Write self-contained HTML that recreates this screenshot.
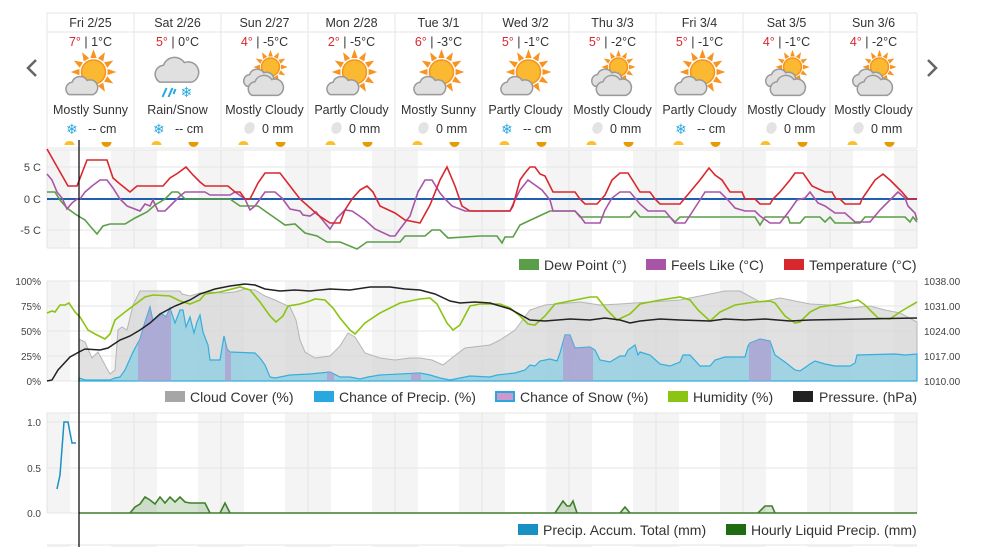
<!DOCTYPE html>
<html><head><meta charset="utf-8"><style>
html,body{margin:0;padding:0;background:#fff;}
body{width:981px;height:547px;overflow:hidden;position:relative;font-family:"Liberation Sans",Arial,sans-serif;}
svg{position:absolute;left:0;top:0;}
</style></head><body>
<svg id="s" width="981" height="547" viewBox="0 0 981 547" font-family="Liberation Sans, Arial, sans-serif">
<defs>
<clipPath id="snowclip">
<rect x="138" y="270" width="33" height="120"/><rect x="225" y="270" width="6" height="120"/>
<rect x="327" y="270" width="7" height="120"/><rect x="411" y="270" width="10" height="120"/>
<rect x="563" y="270" width="30" height="120"/><rect x="749" y="270" width="22" height="120"/>
</clipPath>
</defs>
<g id="bands"></g>
<g id="grid" stroke="#e6e6e6" stroke-width="1"></g>
<g font-size="12.5" fill="#333" text-anchor="middle">
<text x="90.5" y="27">Fri 2/25</text><text x="177.5" y="27">Sat 2/26</text><text x="264.5" y="27">Sun 2/27</text><text x="351.5" y="27">Mon 2/28</text><text x="438.5" y="27">Tue 3/1</text><text x="525.5" y="27">Wed 3/2</text><text x="612.5" y="27">Thu 3/3</text><text x="699.5" y="27">Fri 3/4</text><text x="786.5" y="27">Sat 3/5</text><text x="873.5" y="27">Sun 3/6</text>
</g>
<g font-size="12.5" fill="#333" text-anchor="middle">
<text x="90.5" y="46"><tspan fill="#d9272e">7°</tspan> | 1°C</text>
<text x="177.5" y="46"><tspan fill="#d9272e">5°</tspan> | 0°C</text>
<text x="264.5" y="46"><tspan fill="#d9272e">4°</tspan> | -5°C</text>
<text x="351.5" y="46"><tspan fill="#d9272e">2°</tspan> | -5°C</text>
<text x="438.5" y="46"><tspan fill="#d9272e">6°</tspan> | -3°C</text>
<text x="525.5" y="46"><tspan fill="#d9272e">5°</tspan> | -1°C</text>
<text x="612.5" y="46"><tspan fill="#d9272e">5°</tspan> | -2°C</text>
<text x="699.5" y="46"><tspan fill="#d9272e">5°</tspan> | -1°C</text>
<text x="786.5" y="46"><tspan fill="#d9272e">4°</tspan> | -1°C</text>
<text x="873.5" y="46"><tspan fill="#d9272e">4°</tspan> | -2°C</text>
</g>
<g font-size="12.5" fill="#333" text-anchor="middle">
<text x="90.5" y="114">Mostly Sunny</text><text x="177.5" y="114">Rain/Snow</text><text x="264.5" y="114">Mostly Cloudy</text><text x="351.5" y="114">Partly Cloudy</text><text x="438.5" y="114">Mostly Sunny</text><text x="525.5" y="114">Partly Cloudy</text><text x="612.5" y="114">Mostly Cloudy</text><text x="699.5" y="114">Partly Cloudy</text><text x="786.5" y="114">Mostly Cloudy</text><text x="873.5" y="114">Mostly Cloudy</text>
</g>
<g font-size="12.5" fill="#333">
<text x="88" y="133">-- cm</text><text x="175" y="133">-- cm</text><text x="262" y="133">0 mm</text><text x="349" y="133">0 mm</text><text x="436" y="133">0 mm</text><text x="523" y="133">-- cm</text><text x="610" y="133">0 mm</text><text x="697" y="133">-- cm</text><text x="784" y="133">0 mm</text><text x="871" y="133">0 mm</text>
</g>
<g font-size="14" fill="#29a8e0">
<text x="66" y="134">❄</text><text x="153" y="134">❄</text><text x="501" y="134">❄</text><text x="675" y="134">❄</text>
</g>
<g id="icons"></g>

<g font-size="11" fill="#444" text-anchor="end">
<text x="41" y="171">5 C</text><text x="41" y="203">0 C</text><text x="41" y="234">-5 C</text>
</g>
<line x1="47" y1="199" x2="917" y2="199" stroke="#1f5fb0" stroke-width="2"/>
<polyline fill="none" stroke="#5a9e47" stroke-width="1.6" points="47,192 55,192 60,200 67,208 75,214 85,220 90,226 97,234 103,226 110,224 125,224 135,218 147,212 155,205 165,199 172,192 178,192 185,199 230,199 240,206 258,206 265,211 275,218 285,225 295,224 305,233 317,236 327,242 340,242 357,249 367,242 400,242 405,236 425,236 432,230 440,230 448,238 480,236 497,236 502,243 505,237 513,237 520,225 535,218 550,211 575,211 580,217 630,217 635,211 640,217 670,217 675,222 680,217 755,217 760,225 765,217 788,217 790,223 800,223 805,217 820,217 825,222 830,217 835,223 860,223 865,217 905,217 910,222 913,217 917,222"/>
<polyline fill="none" stroke="#a855a8" stroke-width="1.6" points="47,174 52,180 57,192 62,198 67,209 72,203 77,199 80,199 85,192 92,186 100,180 107,180 113,188 120,199 127,206 140,211 145,204 150,206 153,200 158,211 165,211 170,206 180,196 185,192 205,192 210,195 230,195 235,192 245,199 250,210 255,206 260,199 265,192 275,192 282,198 290,209 300,211 303,215 310,216 316,212 325,223 330,229 337,218 345,210 352,211 358,215 365,220 375,229 390,236 395,236 400,229 410,216 418,192 425,180 432,180 440,193 445,199 452,206 465,211 510,211 515,200 520,190 528,180 535,185 542,190 550,200 553,211 575,211 580,216 585,223 600,223 605,210 612,198 620,192 630,192 635,198 640,204 648,211 665,211 675,223 685,223 700,200 705,192 720,192 728,200 735,208 745,211 755,211 760,216 770,223 780,223 790,210 797,200 805,198 810,192 818,203 825,206 835,213 845,213 855,222 870,222 880,210 890,200 898,192 905,198 908,206 915,213 917,220"/>
<polyline fill="none" stroke="#d9272e" stroke-width="1.6" points="47,149 68,186 77,186 87,160 107,160 113,178 120,184 130,192 137,186 163,186 170,178 178,173 186,167 193,175 200,182 205,186 228,186 235,192 240,192 245,199 250,199 258,183 265,173 280,173 290,186 300,199 308,206 318,215 330,223 340,223 345,210 352,199 360,190 367,186 373,192 380,206 395,213 405,220 420,223 430,205 440,180 447,167 455,186 462,206 470,211 510,211 513,206 520,180 525,173 530,167 535,167 540,174 545,176 553,192 575,192 580,199 585,204 597,204 605,195 612,180 620,173 628,173 640,192 650,192 655,199 660,204 680,204 700,180 709,168 715,175 722,180 730,192 742,192 745,199 755,199 760,204 770,204 773,199 780,192 790,180 795,173 803,173 812,186 825,192 832,192 836,199 840,199 845,204 860,204 862,199 875,180 883,174 890,180 895,185 902,192 908,199 917,199"/>
<g font-size="14" fill="#333">
<rect x="519" y="259" width="20" height="11" fill="#5a9e47"/><text x="544" y="270">Dew Point (°)</text>
<rect x="646" y="259" width="20" height="11" fill="#a855a8"/><text x="671" y="270">Feels Like (°C)</text>
<rect x="784" y="259" width="20" height="11" fill="#d9272e"/><text x="809" y="270">Temperature (°C)</text>
</g>

<g font-size="10" fill="#444" text-anchor="end">
<text x="41" y="285">100%</text><text x="41" y="310">75%</text><text x="41" y="335">50%</text><text x="41" y="360">25%</text><text x="41" y="385">0%</text>
</g>
<g font-size="10" fill="#444">
<text x="924" y="285">1038.00</text><text x="924" y="310">1031.00</text><text x="924" y="335">1024.00</text><text x="924" y="360">1017.00</text><text x="924" y="385">1010.00</text>
</g>
<polygon fill="#d4d4d4" fill-opacity="0.7" stroke="#b5b5b5" stroke-width="1" points="79,381 79,339 85,342 92,358 98,352 105,365 110,374 115,370 118,330 122,327 127,330 133,305 140,291 180,291 182,294 190,296 200,293 207,292 225,293 235,292 245,289 255,290 265,296 275,300 290,307 296,320 300,340 305,352 315,358 330,356 340,346 348,333 355,337 365,353 380,358 395,360 410,358 420,358 432,360 443,365 453,357 465,348 490,345 500,340 515,330 530,310 545,305 580,302 600,305 620,304 650,302 680,300 700,296 725,291 740,291 760,302 780,298 810,304 830,305 850,308 870,306 885,310 900,313 917,322 917,381"/>
<polygon fill="#8ccde3" fill-opacity="0.75" stroke="#35aedc" stroke-width="1.2" points="79,381 79,378 85,380 110,380 115,378 120,377 125,370 133,352 140,339 145,322 150,307 153,321 157,318 162,314 166,317 170,308 175,323 180,310 183,310 186,327 190,317 194,333 197,322 200,315 203,332 206,340 208,345 210,360 220,360 224,336 227,349 230,352 255,353 260,358 265,365 270,377 275,378 290,375 310,374 330,372 340,377 350,377 360,379 368,377 380,375 420,373 430,375 440,378 450,380 460,378 470,376 490,377 497,375 515,373 525,370 530,365 535,366 540,361 550,359 557,361 560,353 565,335 570,335 575,348 590,347 595,350 600,360 610,362 620,356 625,356 628,350 635,345 638,355 640,352 650,355 660,364 670,366 680,362 683,355 690,355 700,366 710,366 715,360 725,357 745,357 748,346 750,343 760,339 770,341 775,355 785,362 795,370 800,371 810,364 815,361 825,364 835,366 850,366 855,363 857,355 895,354 905,355 917,354 917,381"/>
<polygon clip-path="url(#snowclip)" fill="#b09ad0" fill-opacity="0.7" points="79,381 79,378 85,380 110,380 115,378 120,377 125,370 133,352 140,339 145,322 150,307 153,321 157,318 162,314 166,317 170,308 175,323 180,310 183,310 186,327 190,317 194,333 197,322 200,315 203,332 206,340 208,345 210,360 220,360 224,336 227,349 230,352 255,353 260,358 265,365 270,377 275,378 290,375 310,374 330,372 340,377 350,377 360,379 368,377 380,375 420,373 430,375 440,378 450,380 460,378 470,376 490,377 497,375 515,373 525,370 530,365 535,366 540,361 550,359 557,361 560,353 565,335 570,335 575,348 590,347 595,350 600,360 610,362 620,356 625,356 628,350 635,345 638,355 640,352 650,355 660,364 670,366 680,362 683,355 690,355 700,366 710,366 715,360 725,357 745,357 748,346 750,343 760,339 770,341 775,355 785,362 795,370 800,371 810,364 815,361 825,364 835,366 850,366 855,363 857,355 895,354 905,355 917,354 917,381"/>
<polyline fill="none" stroke="#8cc413" stroke-width="1.6" points="47,313 52,311 55,312 60,305 65,305 69,303 75,312 80,317 88,330 95,334 105,339 110,334 115,320 125,312 133,306 145,297 153,295 170,296 180,301 190,304 200,300 205,294 220,292 240,287 250,290 260,302 270,316 276,322 283,316 288,306 300,304 310,301 315,299 325,300 333,308 340,318 350,330 355,334 365,323 380,313 400,303 420,299 430,298 437,304 447,323 453,330 460,325 470,306 480,304 500,304 510,308 520,316 528,324 535,325 545,316 555,304 575,300 590,297 597,297 607,310 617,320 630,314 640,304 660,300 680,297 690,300 698,310 710,321 720,312 735,305 755,302 770,301 775,303 785,316 795,323 800,322 810,312 820,307 840,304 858,300 865,305 878,318 890,319 900,312 905,309 917,302"/>
<polyline fill="none" stroke="#222" stroke-width="1.5" points="47,381 52,380 58,370 70,357 79,352 85,349 100,350 108,348 120,340 130,336 140,330 150,323 160,314 175,306 190,300 200,294 215,289 230,286 245,284 255,285 265,289 280,291 295,290 310,291 330,289 350,290 370,287 390,287 405,289 420,290 435,294 450,301 460,303 475,302 490,303 510,309 530,320 545,321 570,319 590,320 605,318 620,320 630,323 640,321 660,319 680,320 710,321 725,319 745,320 765,319 790,321 810,320 917,318"/>
<g font-size="14" fill="#333">
<rect x="165" y="391" width="20" height="11" fill="#a6a6a6"/><text x="190" y="402">Cloud Cover (%)</text>
<rect x="314" y="391" width="20" height="11" fill="#29a8e0"/><text x="339" y="402">Chance of Precip. (%)</text>
<rect x="496" y="392" width="18" height="9" fill="#cc99cc" stroke="#29a8e0" stroke-width="2"/><text x="520" y="402">Chance of Snow (%)</text>
<rect x="668" y="391" width="20" height="11" fill="#8cc413"/><text x="693" y="402">Humidity (%)</text>
<rect x="793" y="391" width="20" height="11" fill="#222"/><text x="819" y="402">Pressure. (hPa)</text>
</g>

<g font-size="10" fill="#444" text-anchor="end">
<text x="41" y="426">1.0</text><text x="41" y="472">0.5</text><text x="41" y="517">0.0</text>
</g>
<polyline fill="none" stroke="#1a8fc4" stroke-width="1.5" points="57,489 60,475 64,422 68,422 72,443 76,443"/>
<polygon fill="#2e7d1e" fill-opacity="0.2" stroke="#3f7f2a" stroke-width="1.6" points="79,513 130,513 135,507 140,504 145,497 150,500 155,504 160,497 165,503 170,497 175,502 180,497 185,502 190,503 205,503 210,513 220,513 225,503 230,513 555,513 563,501 567,506 570,506 573,501 577,513 620,513 625,507 630,513 758,513 765,506 772,506 775,513 917,513"/>
<g font-size="14" fill="#333">
<rect x="518" y="524" width="20" height="11" fill="#1a8fc4"/><text x="543" y="535">Precip. Accum. Total (mm)</text>
<rect x="726" y="524" width="20" height="11" fill="#1f6b0f"/><text x="751" y="535">Hourly Liquid Precip. (mm)</text>
</g>
<line x1="79" y1="140" x2="79" y2="547" stroke="#000" stroke-width="1.2"/>
<polyline points="36,60 28,68 36,76" fill="none" stroke="#666" stroke-width="2.5"/>
<polyline points="928,60 936,68 928,76" fill="none" stroke="#666" stroke-width="2.5"/>
</svg>
<script>
var NS="http://www.w3.org/2000/svg";
function el(p,t,a){var e=document.createElementNS(NS,t);for(var k in a)e.setAttribute(k,a[k]);p.appendChild(e);return e;}
var bands=document.getElementById('bands'),grid=document.getElementById('grid'),icons=document.getElementById('icons');
var charts=[[150,248],[281,381],[413,513],[545,547]];
for(var d=0;d<10;d++){var x0=47+d*87;
 charts.forEach(function(c){
  el(bands,'rect',{x:x0,y:c[0],width:23,height:c[1]-c[0],fill:'#f4f4f4'});
  el(bands,'rect',{x:x0+64,y:c[0],width:23,height:c[1]-c[0],fill:'#f4f4f4'});
 });
}
[[150,248],[281,381],[413,513]].forEach(function(c){
 for(var d=0;d<=10;d++){var x=47+d*87;el(grid,'line',{x1:x,y1:c[0],x2:x,y2:c[1],stroke:'#e4e4e4'});}
});
[167,199,230,281,306,331,356,381,422,468,513,150,248,413,545].forEach(function(y){el(grid,'line',{x1:47,y1:y,x2:917,y2:y});});
el(grid,'line',{x1:47,y1:13,x2:917,y2:13});el(grid,'line',{x1:47,y1:32,x2:917,y2:32});el(grid,'line',{x1:47,y1:148,x2:917,y2:148});
for(var d=0;d<=10;d++){var x=47+d*87;el(grid,'line',{x1:x,y1:13,x2:x,y2:148});}
var types=['ms','rs','mc','pc','ms','pc','mc','pc','mc','mc'];
function sun(g,cx,cy,r){
 for(var i=0;i<12;i++){var a=i*Math.PI/6,b=0.22;
  el(g,'polygon',{points:[cx+Math.cos(a-b)*r*1.2,cy+Math.sin(a-b)*r*1.2,cx+Math.cos(a)*r*1.9,cy+Math.sin(a)*r*1.9,cx+Math.cos(a+b)*r*1.2,cy+Math.sin(a+b)*r*1.2].join(' '),fill:'#f7931e'});}
 el(g,'circle',{cx:cx,cy:cy,r:r,fill:'#fbb831',stroke:'#f7931e','stroke-width':1.5});
}
function cloud(g,cx,cy,s){
 var p='M'+(cx-13*s)+','+(cy+7*s)+' a'+(7*s)+','+(7*s)+' 0 0 1 '+(3*s)+','+(-13*s)+' a'+(9*s)+','+(9*s)+' 0 0 1 '+(16*s)+','+(-2*s)+' a'+(6*s)+','+(6*s)+' 0 0 1 '+(6*s)+','+(15*s)+' z';
 el(g,'path',{d:p,fill:'#e0e0e0',stroke:'#999','stroke-width':1.5});
}
for(var d=0;d<10;d++){var cx=90.5+d*87,t=types[d];
 if(t=='ms'||t=='pc'){sun(icons,cx+3,72,12);cloud(icons,cx-9,88,0.95);}
 else if(t=='mc'){sun(icons,cx+6,67,9);cloud(icons,cx-6,80,0.9);cloud(icons,cx+1,88,1.05);}
 else {cloud(icons,cx-1,73,1.3);
  el(icons,'path',{d:'M'+(cx-15)+',97 l4,-9 M'+(cx-9)+',97 l4,-9 M'+(cx-4)+',94 l2,-5',stroke:'#29a8e0','stroke-width':2,fill:'none'});
  var tx=el(icons,'text',{x:cx+3,y:97,'font-size':14,fill:'#29a8e0'});tx.textContent='❄';}
 if(t!='rs' && !(d==0||d==5||d==7)){el(icons,'ellipse',{cx:cx-15,cy:128,rx:5,ry:6,fill:'#e3e3e3',transform:'rotate(25 '+(cx-15)+' 128)'});}
 el(icons,'path',{d:'M'+(cx-26)+',145 a5,4 0 0 1 10,0 z',fill:'#fbc02d'});
 el(icons,'path',{d:'M'+(cx+11)+',142 a5,5 0 0 0 10,0 z',fill:'#e69b00'});
}
</script>
</body></html>
